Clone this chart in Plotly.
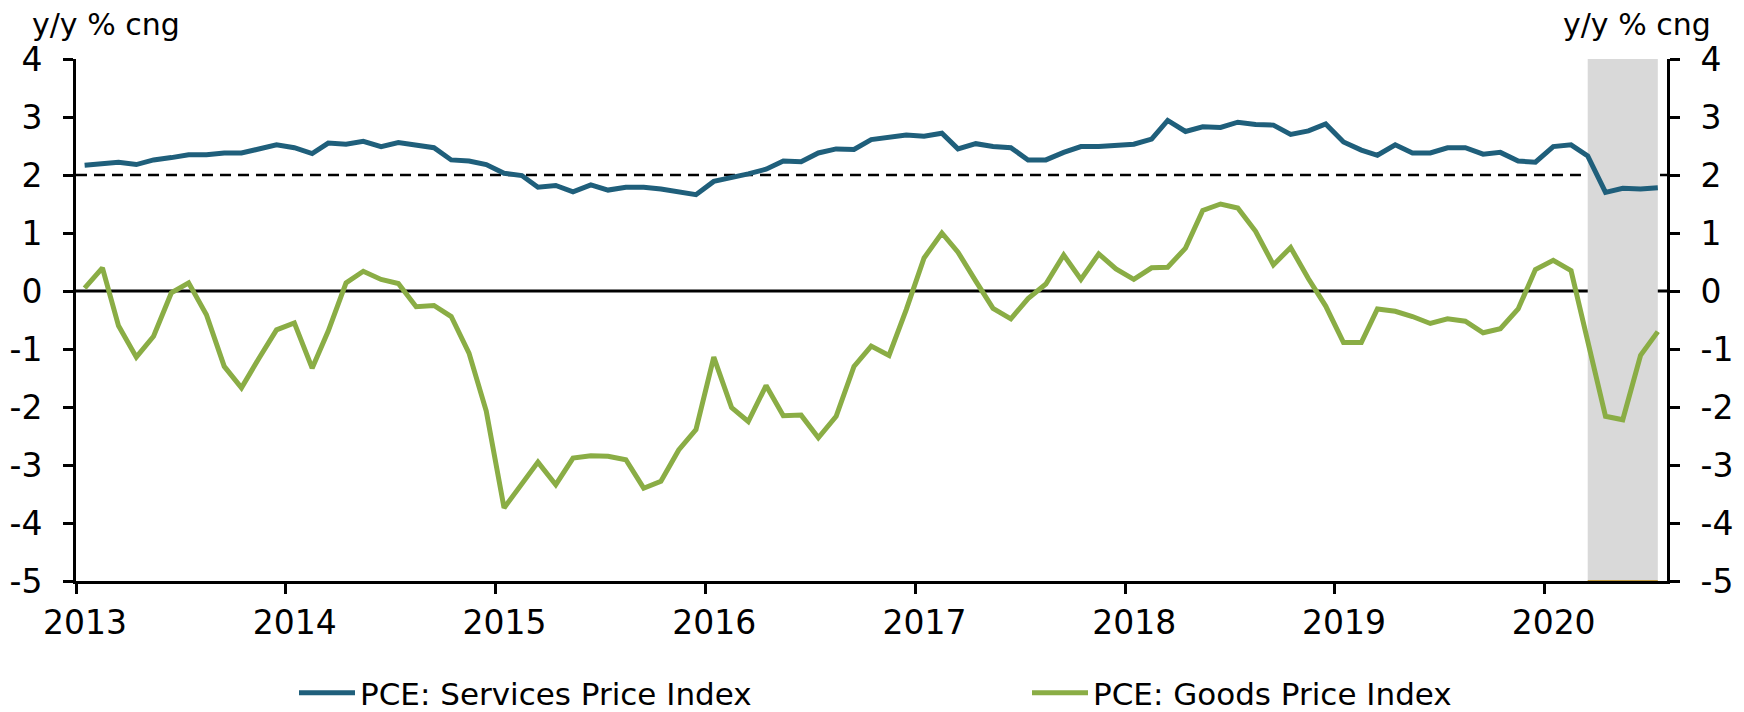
import plotly.graph_objects as go
import pandas as pd

# ---- data (y/y % change), monthly Jan 2013 .. Jul 2020 ----
start_month = "2013-01-01"
services = [
    2.17, 2.19, 2.22, 2.18, 2.26, 2.30, 2.35, 2.35, 2.38, 2.38, 2.44, 2.52,
    2.47, 2.37, 2.55, 2.53, 2.58, 2.49, 2.56, 2.51, 2.47, 2.26, 2.24, 2.18,
    2.03, 1.99, 1.79, 1.82, 1.71, 1.83, 1.74, 1.79, 1.79, 1.76, 1.72, 1.66,
    1.89, 1.95, 2.02, 2.10, 2.24, 2.23, 2.38, 2.45, 2.44, 2.61, 2.64, 2.69,
    2.67, 2.72, 2.45, 2.54, 2.49, 2.47, 2.26, 2.26, 2.39, 2.49, 2.49, 2.52,
    2.53, 2.62, 2.94, 2.75, 2.83, 2.82, 2.91, 2.87, 2.86, 2.70, 2.76, 2.88,
    2.57, 2.43, 2.34, 2.52, 2.38, 2.38, 2.47, 2.47, 2.36, 2.39, 2.24, 2.22,
    2.49, 2.52, 2.33, 1.70, 1.77, 1.76, 1.78,
]
goods = [
    0.05, 0.40, -0.60, -1.14, -0.78, -0.03, 0.14, -0.41, -1.30, -1.67, -1.15, -0.67,
    -0.55, -1.33, -0.69, 0.14, 0.34, 0.20, 0.13, -0.27, -0.25, -0.44, -1.07, -2.07,
    -3.74, -3.34, -2.95, -3.34, -2.88, -2.84, -2.85, -2.91, -3.40, -3.28, -2.74, -2.39,
    -1.14, -2.01, -2.25, -1.63, -2.15, -2.14, -2.53, -2.16, -1.30, -0.95, -1.11, -0.32,
    0.57, 1.00, 0.67, 0.17, -0.30, -0.48, -0.13, 0.12, 0.62, 0.20, 0.64, 0.38,
    0.20, 0.40, 0.41, 0.74, 1.39, 1.50, 1.43, 1.03, 0.45, 0.75, 0.21, -0.26,
    -0.89, -0.89, -0.31, -0.35, -0.44, -0.56, -0.48, -0.52, -0.72, -0.65, -0.31, 0.37,
    0.53, 0.35, -0.90, -2.16, -2.22, -1.11, -0.70,
]
year_ticks = ["2013", "2014", "2015", "2016", "2017", "2018", "2019", "2020"]
y_ticks = [4, 3, 2, 1, 0, -1, -2, -3, -4, -5]
y_tick_labels = ["4", "3", "2", "1", "0", "-1", "-2", "-3", "-4", "-5"]
recession = ("2020-03", "2020-07")
target_line = 2
series_names = ["PCE: Services Price Index", "PCE: Goods Price Index"]

# month centres
months = pd.date_range(start_month, periods=len(services), freq="MS")
x = months + pd.Timedelta(days=15)

FONT = "DejaVu Sans"
C_SERV = "#1f5f7b"
C_GOOD = "#8aad45"
W, H = 1744, 712
ML, MR, MT, MB = 76, 77, 59, 131

fig = go.Figure()
fig.add_trace(go.Scatter(x=x, y=services, mode="lines", name=series_names[0],
                         line=dict(color=C_SERV, width=5), yaxis="y", legend="legend"))
fig.add_trace(go.Scatter(x=x, y=goods, mode="lines", name=series_names[1],
                         line=dict(color=C_GOOD, width=5), yaxis="y", legend="legend2"))
# dummy trace to show the right-hand axis
fig.add_trace(go.Scatter(x=[x[0]], y=[None], yaxis="y2", showlegend=False,
                         hoverinfo="skip", mode="lines"))

# recession shading
r0 = pd.Timestamp(recession[0] + "-01") + pd.Timedelta(days=15)
r1 = pd.Timestamp(recession[1] + "-01") + pd.Timedelta(days=15)
fig.add_shape(type="rect", xref="x", yref="y", x0=r0, x1=r1, y0=-5, y1=4,
              fillcolor="#d9d9d9", line=dict(width=0), layer="below")
fig.add_shape(type="line", xref="x", yref="y", x0=r0, x1=r1, y0=-5, y1=-5,
              line=dict(color="#b8860b", width=1.5), layer="below")
# reference lines
fig.add_shape(type="line", xref="paper", yref="y", x0=0, x1=1,
              y0=target_line, y1=target_line,
              line=dict(color="black", width=2.5, dash="11px,7px"), layer="below")
fig.add_shape(type="line", xref="paper", yref="y", x0=0, x1=1, y0=0, y1=0,
              line=dict(color="black", width=3), layer="below")

axis_common = dict(range=[-5, 4], tickvals=y_ticks, ticktext=y_tick_labels,
                   ticks="outside", ticklen=10,
                   tickwidth=3, tickcolor="black", showline=True, linewidth=3,
                   linecolor="black", showgrid=False, zeroline=False,
                   automargin=False,
                   tickfont=dict(family=FONT, size=33, color="black"),
                   ticklabelstandoff=14)

legend_common = dict(orientation="h", xref="container", yref="container",
                     xanchor="left", y=1 - 693 / H, yanchor="middle",
                     font=dict(family=FONT, size=31, color="black"),
                     itemwidth=56, bgcolor="rgba(0,0,0,0)", borderwidth=0)

fig.update_layout(
    width=W, height=H,
    margin=dict(l=ML, r=MR, t=MT, b=MB, autoexpand=False),
    paper_bgcolor="white", plot_bgcolor="white",
    font=dict(family=FONT, color="black"),
    xaxis=dict(range=[pd.Timestamp(start_month), months[-1] + pd.DateOffset(months=1)],
               tickvals=[pd.Timestamp(f"{y}-01-01") for y in year_ticks],
               ticktext=year_ticks, ticks="outside", ticklen=10, tickwidth=3,
               tickcolor="black", showline=True, linewidth=3, linecolor="black",
               showgrid=False, zeroline=False, ticklabelshift=9,
               ticklabelstandoff=0, automargin=False,
               tickfont=dict(family=FONT, size=33, color="black")),
    yaxis=dict(side="left", **axis_common),
    yaxis2=dict(side="right", overlaying="y", **axis_common),
    showlegend=True,
    legend=dict(x=(302 - 8) / W, **legend_common),
    legend2=dict(x=(1035 - 8) / W, **legend_common),
    annotations=[
        dict(text="y/y % cng", xref="paper", yref="paper",
             x=(30 - ML) / (W - ML - MR), y=(H - MB - 24) / (H - MT - MB),
             xanchor="left", yanchor="middle", showarrow=False,
             font=dict(family=FONT, size=30, color="black")),
        dict(text="y/y % cng", xref="paper", yref="paper",
             x=(1713 - ML) / (W - ML - MR), y=(H - MB - 24) / (H - MT - MB),
             xanchor="right", yanchor="middle", showarrow=False,
             font=dict(family=FONT, size=30, color="black")),
    ],
)

fig.write_html(
    "out.html",
    config={"displayModeBar": False},
    post_script="document.body.style.margin='0';document.body.style.overflow='hidden';",
)
